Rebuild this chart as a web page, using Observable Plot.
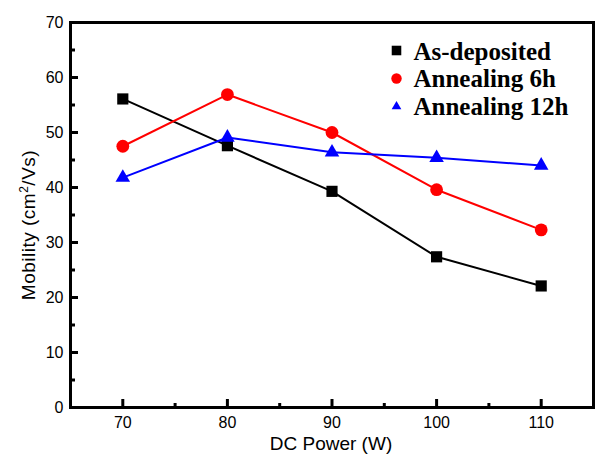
<!DOCTYPE html>
<html>
<head>
<meta charset="utf-8">
<script src="https://cdn.jsdelivr.net/npm/d3@7"></script>
<script src="https://cdn.jsdelivr.net/npm/@observablehq/plot@0.6"></script>
<style>
  html, body { margin: 0; padding: 0; background: #fff; }
  #chart svg { display: block; }
</style>
</head>
<body>
<div id="chart"></div>
<script>
// DC sputtering power (W)
const power = [70, 80, 90, 100, 110];

// Hall mobility (cm²/Vs) for each film condition
const asDeposited = [56.1, 47.6, 39.3, 27.4, 22.1];
const annealing6h = [47.5, 56.9, 50.0, 39.6, 32.3];
const annealing12h = [41.8, 49.1, 46.4, 45.4, 44.0];

const seriesNames = ["As-deposited", "Annealing 6h", "Annealing 12h"];
const seriesColors = ["#000000", "#ff0000", "#0000ff"];
const seriesSymbols = ["square", "circle", "triangle"];

const xMajor = [70, 80, 90, 100, 110];
const xMinor = [75, 85, 95, 105];
const yMajor = [0, 10, 20, 30, 40, 50, 60, 70];
const yMinor = [5, 15, 25, 35, 45, 55, 65];

const seriesValues = [asDeposited, annealing6h, annealing12h];
const rows = seriesValues.flatMap((vals, s) =>
  power.map((p, i) => ({series: seriesNames[s], power: p, mobility: vals[i]}))
);

const sans = "'Liberation Sans', Arial, sans-serif";
const serif = "'Liberation Serif', 'Times New Roman', serif";

const W = 599, H = 460;
const mL = 70, mR = 6, mT = 22, mB = 53;
const frameW = W - mL - mR, frameH = H - mT - mB;

const marks = [
  // inward tick marks along the bottom and left edges
  Plot.tickX(xMajor, {x: d => d, insetTop: frameH - 8, stroke: "#000", strokeWidth: 3}),
  Plot.tickX(xMinor, {x: d => d, insetTop: frameH - 4, stroke: "#000", strokeWidth: 3}),
  Plot.tickY(yMajor, {y: d => d, insetRight: frameW - 8, stroke: "#000", strokeWidth: 3}),
  Plot.tickY(yMinor, {y: d => d, insetRight: frameW - 5, stroke: "#000", strokeWidth: 3}),
  Plot.frame({stroke: "#000", strokeWidth: 3}),
  // tick labels
  Plot.axisX({ticks: xMajor, tickSize: 0, tickPadding: 9, fontSize: 16, label: null, anchor: "bottom"}),
  Plot.axisY({ticks: yMajor, tickSize: 0, tickPadding: 7, fontSize: 16, label: null, anchor: "left"})
];

seriesNames.forEach((name, s) => {
  const data = rows.filter(d => d.series === name);
  marks.push(
    Plot.line(data, {x: "power", y: "mobility", stroke: seriesColors[s], strokeWidth: 2}),
    Plot.dot(data, {
      x: "power", y: "mobility",
      symbol: () => seriesSymbols[s],
      fill: seriesColors[s], stroke: "none",
      r: seriesSymbols[s] === "triangle" ? 5.4 : (seriesSymbols[s] === "square" ? 6.3 : 6.4)
    })
  );
  // legend entry in the upper right of the frame
  marks.push(
    Plot.dot([name], {
      frameAnchor: "top-right", dx: -197, dy: 28 + s * 28,
      symbol: () => seriesSymbols[s], fill: seriesColors[s], stroke: "none",
      r: seriesSymbols[s] === "triangle" ? 3.6 : (seriesSymbols[s] === "square" ? 5.4 : 5.2)
    }),
    Plot.text([name], {
      frameAnchor: "top-right", dx: -180, dy: 29 + s * 27.5,
      text: d => d, textAnchor: "start", lineAnchor: "middle",
      fontFamily: serif, fontWeight: "bold", fontSize: 25, fill: "#000"
    })
  );
});

const chart = Plot.plot({
  width: W,
  height: H,
  marginLeft: mL,
  marginRight: mR,
  marginTop: mT,
  marginBottom: mB,
  style: {fontFamily: sans, fontSize: "16px", color: "#000", background: "#fff"},
  x: {domain: [65, 115], label: null},
  y: {domain: [0, 70], label: null},
  symbol: {type: "identity"},
  marks
});

const svg = d3.select(chart);
// axis titles
svg.append("text")
  .attr("x", 331).attr("y", 450)
  .attr("text-anchor", "middle")
  .attr("font-family", sans).attr("font-size", 19)
  .attr("fill", "#000")
  .text("DC Power (W)");

const yTitle = svg.append("text")
  .attr("transform", "translate(35,225) rotate(-90)")
  .attr("text-anchor", "middle")
  .attr("font-family", sans).attr("font-size", 19)
  .attr("letter-spacing", "0.5")
  .attr("fill", "#000");
yTitle.append("tspan").text("Mobility (cm");
yTitle.append("tspan").attr("font-size", 12).attr("dy", -7).text("2");
yTitle.append("tspan").attr("dy", 7).text("/Vs)");

document.getElementById("chart").appendChild(chart);
</script>
</body>
</html>
